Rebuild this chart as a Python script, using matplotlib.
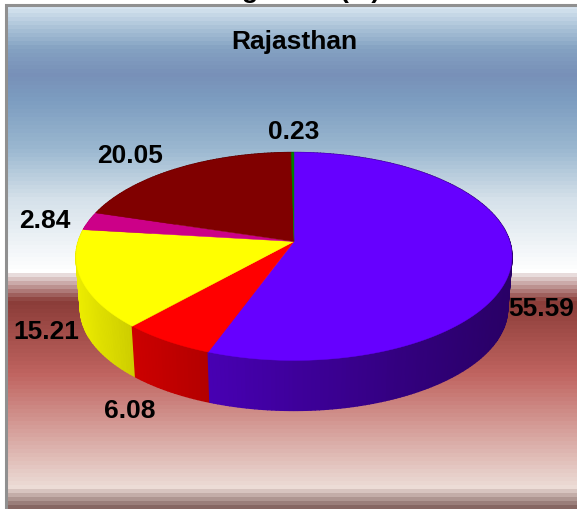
import numpy as np
import matplotlib
matplotlib.use("Agg")
import matplotlib.pyplot as plt
from matplotlib.colors import to_rgb

plt.rcParams['font.family'] = ['Liberation Sans', 'DejaVu Sans']

# ---------------------------
# 1. Data
# ---------------------------
values = [55.59, 6.08, 15.21, 2.84, 20.05, 0.23]
labels = ['55.59', '6.08', '15.21', '2.84', '20.05', '0.23']
colors = ['#6600ff', '#ff0000', '#ffff00', '#cc0088', '#800000', '#008000']
title = 'Rajasthan'

label_xy = [(541, 309), (130, 411), (46, 332), (45, 221), (130, 156), (294, 132)]

# ---------------------------
# 2. Figure in pixel coordinates
# ---------------------------
W, H = 577, 510
fig = plt.figure(figsize=(W / 100, H / 100), dpi=100)
ax = fig.add_axes([0, 0, 1, 1])
ax.set_xlim(0, W)
ax.set_ylim(H, 0)
ax.axis('off')

# banded background
stop_y = [6, 30, 50, 75, 100, 150, 200, 272, 276, 302, 375, 488, 510]
stop_c = ['#dbe8f3', '#a8c0d6', '#84a2c2', '#7890b8', '#7c9cc0', '#9bb8d0',
          '#d5e1ea', '#ffffff', '#e8dcdc', '#8a3c38', '#c06460', '#ecdcd6', '#7c5c58']
stop_rgb = np.array([to_rgb(c) for c in stop_c])
rows = np.arange(6, H)
band_rows = np.floor((rows - 6) / 4) * 4 + 8
grad = np.stack([np.interp(band_rows, stop_y, stop_rgb[:, i]) for i in range(3)], axis=1)
ax.imshow(grad[:, None, :], extent=(6, W, H, 6), aspect='auto',
          interpolation='nearest', zorder=0)
ax.set_xlim(0, W)
ax.set_ylim(H, 0)

# chart frame
ax.plot([5.5, 5.5, W], [H, 5.5, 5.5], color='#909090', lw=2.2, zorder=1,
        solid_capstyle='butt', solid_joinstyle='miter')

# title cropped by the top of the picture
ax.text(250, -9, 'g', fontsize=19, fontweight='bold', ha='center', va='center', zorder=5)
ax.text(360, -9, '(%)', fontsize=19, fontweight='bold', ha='center', va='center', zorder=5)

# ---------------------------
# 3. Pie in perspective
# ---------------------------
CX, CY = 294, 242.5
A, B, K = 215.7, 101.8, 0.144
DROP, SCALE = 52.4, 0.98


def project(theta, drop=0.0, scale=1.0):
    u = np.sin(theta)
    v = -np.cos(theta)
    w = 1 - K * v
    return CX + scale * A * u / w, CY + drop + scale * B * v / w


def side_shade(x):
    return np.interp(x, [80, 135, 210, 400, 510], [0.92, 0.80, 0.70, 0.50, 0.40])


edges = np.radians(np.concatenate([[0], np.cumsum(values)]) * 3.6)

# side wall, back to front
quads = []
for i, col in enumerate(colors):
    n = max(int(np.degrees(edges[i + 1] - edges[i])), 1)
    ts = np.linspace(edges[i], edges[i + 1], n + 1)
    for t0, t1 in zip(ts[:-1], ts[1:]):
        quads.append((-np.cos((t0 + t1) / 2), t0, t1, col))
quads.sort(key=lambda q: q[0])
for _, t0, t1, col in quads:
    x0, y0 = project(t0)
    x1, y1 = project(t1)
    x2, y2 = project(t1, DROP, SCALE)
    x3, y3 = project(t0, DROP, SCALE)
    shade = np.array(to_rgb(col)) * side_shade((x0 + x1) / 2)
    ax.fill([x0, x1, x2, x3], [y0, y1, y2, y3], color=shade, lw=1.0, zorder=2)

# top surface
for i, col in enumerate(colors):
    ts = np.linspace(edges[i], edges[i + 1], 120)
    xs, ys = project(ts)
    ax.fill(np.r_[CX, xs], np.r_[CY, ys], color=col, lw=0.3, zorder=3)

# ---------------------------
# 4. Text
# ---------------------------
for lab, (x, y) in zip(labels, label_xy):
    ax.text(x, y, lab, fontsize=19, fontweight='bold', ha='center', va='center', zorder=6)
ax.text(294, 42, title, fontsize=19, fontweight='bold', ha='center', va='center', zorder=6)

fig.savefig('out.png', dpi=100)
plt.close(fig)
